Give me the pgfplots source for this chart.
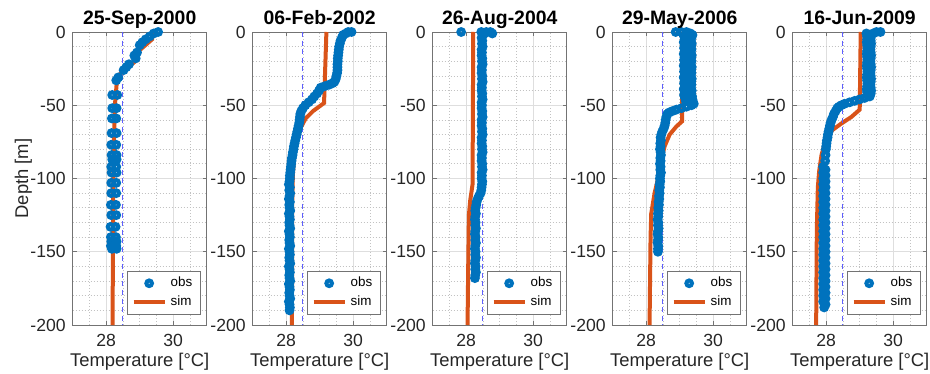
\documentclass[border=0pt]{standalone}
\usepackage{fontspec}
\setmainfont{Liberation Sans}
\usepackage{pgfplots}
\pgfplotsset{compat=1.18}

\definecolor{obsblue}{HTML}{0072BD}
\definecolor{simorange}{HTML}{D95319}
\definecolor{refblue}{RGB}{95,95,255}

\pgfplotsset{
  profile/.style={
    scale only axis, width=67pt, height=146.5pt,
    xmin=27, xmax=31, ymin=-200, ymax=0,
    xtick={28,30}, ytick={-200,-150,-100,-50,0},
    minor xtick={27.5,28.5,29,29.5,30.5},
    minor ytick={-190,-180,-170,-160,-140,-130,-120,-110,-90,-80,-70,-60,-40,-30,-20,-10},
    grid=both,
    major grid style={black!13, line width=0.35pt},
    minor grid style={black!24, line width=0.35pt, dash pattern=on 0.4pt off 1.1pt},
    axis line style={black!55, line width=0.4pt},
    tick style={black!55, line width=0.4pt},
    tick align=inside, major tick length=2pt, minor tick length=0pt,
    /pgf/number format/assume math mode=true,
    ticklabel style={font=\fontsize{8.8}{10}\selectfont, text=black!85},
    xticklabel style={yshift=-1.2pt},
    every axis title/.style={at={(0.5,1)}, anchor=base, yshift=3.5pt,
      font=\bfseries\fontsize{9.7}{11}\selectfont},
    every axis x label/.style={at={(0.5,0)}, anchor=base, yshift=-20.8pt,
      font=\fontsize{9.2}{10}\selectfont, text=black!85},
    every axis y label/.style={at={(0,0.5)}, rotate=90, anchor=base, yshift=22.3pt,
      font=\fontsize{9.2}{10}\selectfont, text=black!85},
    xlabel={Temperature [°C]},
    clip=false,
    legend style={at={(0.955,0.035)}, anchor=south east, draw=black!55,
      line width=0.4pt, font=\fontsize{6.7}{7}\selectfont,
      inner xsep=2pt, inner ysep=1pt, row sep=-1pt},
    legend cell align=left,
    legend image code/.code={\draw[#1, mark repeat=2, mark phase=2]
      plot coordinates {(0pt,0pt) (7.75pt,0pt) (15.5pt,0pt)};},
  },
  obs/.style={only marks, mark=o, color=obsblue, mark size=1.4pt,
    mark options={line width=2pt}},
  sim/.style={color=simorange, line width=2pt, no marks},
  ref/.style={color=refblue, line width=0.5pt, dash pattern=on 2.5pt off 1.8pt, forget plot},
}

\begin{document}
\begin{tikzpicture}

% ---------------- 25-Sep-2000 ----------------
\begin{axis}[profile, at={(0pt,0pt)}, title={25-Sep-2000}, ylabel={Depth [m]}]
\addplot[obs] table[x=T, y=d] {
T d
29.55 0
29.42 -1
29.30 -3
29.18 -5
29.08 -7
29.00 -9
28.92 -14
28.84 -16
28.88 -18
28.68 -22
28.60 -24
28.52 -26
28.36 -31
28.30 -33
28.18 -43
28.33 -43
28.18 -52
28.31 -52
28.17 -59
28.30 -59
28.16 -69
28.31 -69
28.15 -77
28.30 -77
28.16 -84
28.31 -84
28.18 -87
28.31 -87
28.15 -92
28.30 -92
28.16 -96
28.31 -96
28.15 -103
28.30 -103
28.15 -110
28.30 -110
28.14 -118
28.29 -118
28.15 -125
28.30 -125
28.13 -133
28.28 -133
28.14 -140
28.29 -140
28.15 -143
28.31 -143
28.14 -146
28.30 -146
28.17 -148
28.31 -148
};
\addlegendentry{obs}
\addplot[sim] table[x=T, y=d] {
T d
29.37 0
29.37 -5
28.97 -13
28.92 -19
28.40 -29
28.31 -36
28.26 -50
28.23 -75
28.21 -104
28.19 -200
};
\addlegendentry{sim}
\addplot[ref] coordinates {(28.5,0) (28.5,-200)};
\end{axis}

% ---------------- 06-Feb-2002 ----------------
\begin{axis}[profile, at={(90pt,0pt)}, title={06-Feb-2002}]
\addplot[obs] table[x=T, y=d] {
T d
29.95 0
29.85 0
29.78 -1
29.70 -2
29.66 -4
29.62 -6
29.60 -8
29.58 -10
29.57 -12
29.56 -14
29.55 -16
29.54 -18
29.54 -20
29.53 -22
29.53 -24
29.53 -26
29.52 -28
29.50 -30
29.48 -32
29.44 -34
29.38 -35
29.28 -36
29.15 -37
29.03 -38
28.98 -40
28.92 -42
28.84 -44
28.77 -46
28.67 -48
28.57 -50
28.50 -52
28.45 -54
28.42 -56
28.41 -58
28.40 -60
28.39 -62
28.37 -64
28.35 -66
28.33 -68
28.31 -70
28.29 -72
28.27 -74
28.25 -76
28.23 -78
28.22 -80
28.20 -82
28.19 -84
28.17 -86
28.16 -88
28.15 -90
28.14 -92
28.13 -94
28.12 -96
28.11 -98
28.11 -100
28.10 -102
28.08 -104
28.11 -106
28.09 -108
28.12 -110
28.10 -112
28.08 -114
28.11 -116
28.09 -118
28.10 -120
28.12 -122
28.08 -124
28.10 -126
28.11 -128
28.09 -130
28.10 -132
28.12 -134
28.08 -136
28.10 -138
28.11 -140
28.09 -142
28.10 -144
28.12 -146
28.08 -148
28.10 -150
28.11 -152
28.09 -154
28.10 -156
28.12 -158
28.08 -160
28.10 -162
28.11 -164
28.09 -166
28.10 -168
28.12 -170
28.08 -172
28.10 -174
28.11 -176
28.09 -178
28.10 -180
28.12 -182
28.08 -184
28.10 -186
28.11 -188
28.10 -190
};
\addlegendentry{obs}
\addplot[sim] table[x=T, y=d] {
T d
29.20 0
29.13 -48.5
28.80 -54
28.58 -59
28.43 -65.5
28.32 -73.5
28.24 -85
28.20 -97
28.18 -115
28.17 -200
};
\addlegendentry{sim}
\addplot[ref] coordinates {(28.5,0) (28.5,-200)};
\end{axis}

% ---------------- 26-Aug-2004 ----------------
\begin{axis}[profile, at={(180pt,0pt)}, title={26-Aug-2004}]
\addplot[obs] table[x=T, y=d] {
T d
27.85 0
28.45 0
28.60 0
28.72 0
28.78 -1
28.55 -1
28.50 -2
28.46 -4
28.48 -6
28.47 -8
28.49 -10
28.46 -12
28.47 -14
28.46 -16
28.48 -18
28.47 -20
28.49 -22
28.46 -24
28.47 -26
28.46 -28
28.48 -30
28.47 -32
28.49 -34
28.46 -36
28.47 -38
28.46 -40
28.48 -42
28.47 -44
28.49 -46
28.46 -48
28.47 -50
28.46 -52
28.48 -54
28.47 -56
28.49 -58
28.46 -60
28.47 -62
28.46 -64
28.48 -66
28.47 -68
28.49 -70
28.46 -72
28.47 -74
28.46 -76
28.48 -78
28.47 -80
28.49 -82
28.46 -84
28.47 -86
28.46 -88
28.48 -90
28.47 -92
28.49 -94
28.46 -96
28.47 -98
28.46 -100
28.48 -102
28.47 -104
28.46 -106
28.45 -108
28.43 -110
28.38 -112
28.34 -114
28.31 -116
28.30 -118
28.28 -120
28.27 -122
28.29 -124
28.27 -126
28.26 -128
28.28 -130
28.27 -132
28.29 -134
28.27 -136
28.26 -138
28.28 -140
28.27 -142
28.29 -144
28.27 -146
28.26 -148
28.28 -150
28.27 -152
28.29 -154
28.27 -156
28.26 -158
28.28 -160
28.27 -162
28.29 -164
28.27 -166
28.26 -168
};
\addlegendentry{obs}
\addplot[sim] table[x=T, y=d] {
T d
28.21 0
28.20 -50
28.19 -104
28.12 -115
28.08 -125
28.06 -160
28.04 -200
};
\addlegendentry{sim}
\addplot[ref] coordinates {(28.5,0) (28.5,-200)};
\end{axis}

% ---------------- 29-May-2006 ----------------
\begin{axis}[profile, at={(270pt,0pt)}, title={29-May-2006}]
\addplot[obs] table[x=T, y=d] {
T d
28.88 0
29.05 0
29.20 0
29.32 -1
29.38 -2
29.22 -2
29.13 -3
29.35 -4
29.16 -5
29.33 -6
29.12 -7
29.36 -8
29.15 -9
29.34 -10
29.13 -11
29.35 -12
29.16 -13
29.33 -14
29.12 -15
29.36 -16
29.15 -17
29.34 -18
29.13 -19
29.35 -20
29.16 -21
29.33 -22
29.12 -23
29.36 -24
29.15 -25
29.34 -26
29.13 -27
29.35 -28
29.16 -29
29.33 -30
29.12 -31
29.36 -32
29.15 -33
29.34 -34
29.13 -35
29.35 -36
29.16 -37
29.33 -38
29.12 -39
29.36 -40
29.15 -41
29.34 -42
29.13 -43
29.37 -44
29.16 -45
29.38 -46
29.18 -47
29.40 -48
29.42 -49
29.35 -50
29.20 -51
29.05 -52
28.90 -53
28.78 -54
28.68 -55
28.63 -56
28.60 -58
28.58 -60
28.57 -62
28.55 -64
28.52 -66
28.48 -68
28.45 -70
28.43 -72
28.44 -74
28.42 -76
28.43 -78
28.41 -80
28.43 -82
28.44 -84
28.42 -86
28.43 -88
28.41 -90
28.43 -92
28.42 -94
28.44 -96
28.42 -98
28.41 -100
28.42 -102
28.40 -104
28.41 -106
28.39 -108
28.40 -110
28.38 -112
28.39 -114
28.37 -116
28.38 -118
28.36 -120
28.37 -122
28.35 -124
28.36 -126
28.34 -128
28.36 -130
28.35 -132
28.37 -134
28.35 -136
28.34 -138
28.36 -140
28.35 -142
28.34 -144
28.36 -146
28.35 -148
28.35 -150
};
\addlegendentry{obs}
\addplot[sim] table[x=T, y=d] {
T d
29.07 0
29.07 -61
28.90 -64.5
28.70 -70
28.55 -78
28.45 -87
28.37 -98.5
28.25 -110
28.15 -124
28.13 -140
28.10 -200
};
\addlegendentry{sim}
\addplot[ref] coordinates {(28.5,0) (28.5,-200)};
\end{axis}

% ---------------- 16-Jun-2009 ----------------
\begin{axis}[profile, at={(360pt,0pt)}, title={16-Jun-2009}]
\addplot[obs] table[x=T, y=d] {
T d
29.62 0
29.50 0
29.40 -1
29.30 -2
29.20 -1
29.22 -3
29.33 -4
29.22 -5
29.33 -6
29.21 -7
29.34 -8
29.22 -9
29.33 -10
29.23 -11
29.32 -12
29.22 -13
29.33 -14
29.21 -15
29.34 -16
29.22 -17
29.33 -18
29.23 -19
29.32 -20
29.22 -21
29.33 -22
29.21 -23
29.34 -24
29.22 -25
29.33 -26
29.23 -27
29.32 -28
29.22 -29
29.33 -30
29.21 -31
29.34 -32
29.22 -33
29.33 -34
29.23 -35
29.32 -36
29.22 -37
29.33 -38
29.21 -39
29.34 -40
29.22 -41
29.33 -42
29.23 -43
29.30 -44
29.15 -45
29.00 -46
28.85 -47
28.70 -48
28.55 -49
28.45 -50
28.38 -51
28.33 -52
28.28 -54
28.23 -56
28.20 -58
28.16 -60
28.13 -62
28.11 -64
28.09 -66
28.07 -68
28.05 -70
28.04 -72
28.02 -74
28.01 -76
28.00 -78
27.99 -80
27.98 -84
27.97 -88
27.91 -92
27.98 -94
27.91 -96
27.98 -98
27.91 -100
27.98 -102
27.91 -104
27.98 -106
27.91 -108
27.98 -110
27.91 -112
27.98 -114
27.91 -116
27.98 -118
27.91 -120
27.98 -122
27.91 -124
27.98 -126
27.91 -128
27.98 -130
27.91 -132
27.98 -134
27.91 -136
27.98 -138
27.91 -140
27.98 -142
27.91 -144
27.98 -146
27.91 -148
27.98 -150
27.91 -152
27.98 -154
27.91 -156
27.98 -158
27.91 -160
27.98 -162
27.91 -164
27.98 -166
27.91 -168
27.98 -170
27.91 -172
27.98 -174
27.91 -176
27.98 -178
27.91 -180
27.98 -182
27.91 -184
27.98 -186
27.94 -188
};
\addlegendentry{obs}
\addplot[sim] table[x=T, y=d] {
T d
29.03 0
29.00 -53
28.75 -58
28.45 -62.5
28.18 -67
27.98 -74
27.86 -84
27.79 -95
27.75 -106
27.72 -135
27.70 -200
};
\addlegendentry{sim}
\addplot[ref] coordinates {(28.5,0) (28.5,-200)};
\end{axis}

\pgfresetboundingbox
\path[use as bounding box] (-36.35pt,-24.5pt) rectangle (428.65pt,162.5pt);
\end{tikzpicture}
\end{document}
